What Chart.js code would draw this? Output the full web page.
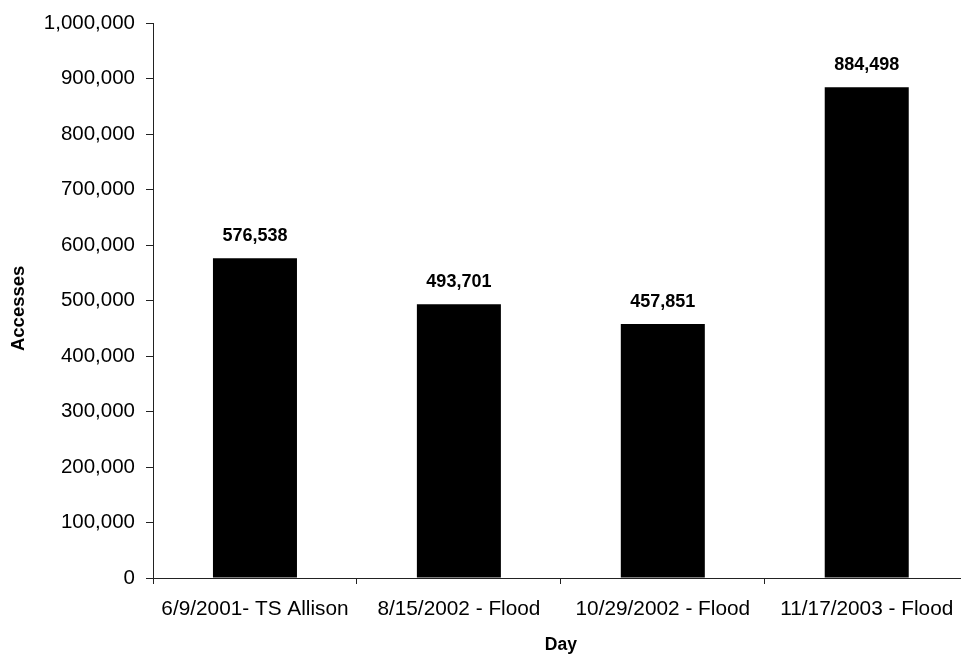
<!DOCTYPE html>
<html>
<head>
<meta charset="utf-8">
<script src="https://cdn.jsdelivr.net/npm/chart.js@4/dist/chart.umd.min.js"></script>
<style>
  html, body { margin: 0; padding: 0; background: #fff; overflow: hidden; }
  #wrap { width: 980px; height: 656px; }
</style>
</head>
<body>
<div id="wrap"><canvas id="c" width="980" height="656"></canvas></div>
<script>
// Daily accesses on peak event days
const days = ['6/9/2001- TS Allison', '8/15/2002 - Flood', '10/29/2002 - Flood', '11/17/2003 - Flood'];
const accesses = [576538, 493701, 457851, 884498];
const yTicks = [0, 100000, 200000, 300000, 400000, 500000, 600000, 700000, 800000, 900000, 1000000];

const FONT = "'Liberation Sans', Arial, sans-serif";
const fmt = v => Number(v).toLocaleString('en-US');

// Writes each bar's value above it
const valueLabels = {
  id: 'valueLabels',
  afterDatasetsDraw(chart) {
    const ctx = chart.ctx;
    const meta = chart.getDatasetMeta(0);
    ctx.save();
    ctx.font = 'bold 18px ' + FONT;
    ctx.fillStyle = '#000';
    ctx.textAlign = 'center';
    ctx.textBaseline = 'alphabetic';
    meta.data.forEach((bar, i) => {
      ctx.fillText(fmt(chart.data.datasets[0].data[i]), bar.x, bar.y - 17);
    });
    ctx.restore();
  }
};

new Chart(document.getElementById('c'), {
  type: 'bar',
  data: {
    labels: days,
    datasets: [{
      data: accesses,
      backgroundColor: '#000',
      borderWidth: 0,
      categoryPercentage: 1,
      barPercentage: 0.412
    }]
  },
  options: {
    responsive: false,
    animation: false,
    layout: { padding: { top: 21, right: 11.3, bottom: 0, left: 0 } },
    plugins: { legend: { display: false }, tooltip: { enabled: false } },
    scales: {
      x: {
        afterFit(scale) { scale.height = 78; },
        grid: { drawOnChartArea: false, drawTicks: true, tickLength: 6, offset: true, color: '#222' },
        border: { display: true, color: '#222', width: 1 },
        ticks: { color: '#000', padding: 13, maxRotation: 0, autoSkip: false, font: { family: FONT, size: 20.8 } },
        title: { display: true, text: 'Day', color: '#000', padding: { top: 0, bottom: 0 }, font: { family: FONT, size: 17.5, weight: 'bold' } }
      },
      y: {
        min: 0,
        max: 1000000,
        afterFit(scale) { scale.width = 153; },
        afterBuildTicks(scale) { scale.ticks = yTicks.map(v => ({ value: v })); },
        grid: { drawOnChartArea: false, drawTicks: true, tickLength: 7, color: '#222' },
        border: { display: true, color: '#222', width: 1 },
        ticks: { color: '#000', padding: 11, callback: v => fmt(v), font: { family: FONT, size: 20.5 } },
        title: { display: true, text: 'Accesses   ', color: '#000', padding: { top: 8, bottom: 0 }, font: { family: FONT, size: 18.5, weight: 'bold' } }
      }
    }
  },
  plugins: [valueLabels]
});
</script>
</body>
</html>
